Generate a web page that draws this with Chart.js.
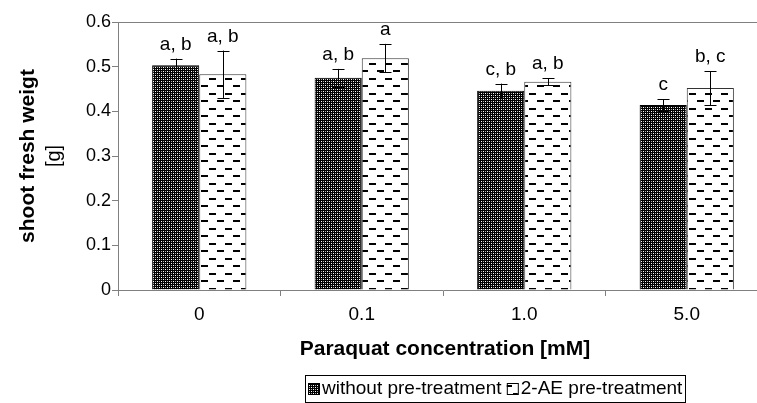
<!DOCTYPE html>
<html>
<head>
<meta charset="utf-8">
<script src="https://cdn.jsdelivr.net/npm/chart.js@4.4.1/dist/chart.umd.min.js"></script>
<style>
  html, body { margin: 0; padding: 0; background: #fff; overflow: hidden; }
  #wrap { width: 772px; height: 403px; }
</style>
</head>
<body>
<div id="wrap"><canvas id="myChart"></canvas></div>
<script>
var categories = ['0', '0.1', '1.0', '5.0'];
var withoutMeans = [0.503, 0.475, 0.446, 0.414];
var withoutErr = [0.015, 0.020, 0.016, 0.013];
var aeMeans = [0.483, 0.519, 0.466, 0.452];
var aeErr = [0.053, 0.032, 0.008, 0.038];
var withoutLetters = ['a, b', 'a, b', 'c, b', 'c'];
var aeLetters = ['a, b', 'a', 'a, b', 'b, c'];
var seriesNames = ['without pre-treatment', '2-AE pre-treatment'];

var FONT = 'Arial, "Liberation Sans", sans-serif';

// dark checkered fill
function checkPattern() {
  var c = document.createElement('canvas');
  c.width = 4; c.height = 4;
  var g = c.getContext('2d');
  g.fillStyle = '#000';
  g.fillRect(0, 0, 4, 4);
  g.fillStyle = '#fff';
  g.fillRect(1, 1, 1, 1);
  g.fillRect(3, 3, 1, 1);
  g.fillStyle = '#aaa';
  g.fillRect(3, 1, 1, 1);
  g.fillRect(1, 3, 1, 1);
  return g.createPattern(c, 'repeat');
}

// white with short dashes
function dashPattern() {
  var c = document.createElement('canvas');
  c.width = 16; c.height = 15;
  var g = c.getContext('2d');
  g.fillStyle = '#fff';
  g.fillRect(0, 0, 16, 15);
  g.fillStyle = '#000';
  g.fillRect(1, 3, 7, 2);
  g.fillRect(9, 10, 7, 2);
  return g.createPattern(c, 'repeat');
}

var fills = [checkPattern(), dashPattern()];
var errs = [withoutErr, aeErr];
var letters = [withoutLetters, aeLetters];

var extras = {
  id: 'extras',
  afterDatasetsDraw: function(chart) {
    var ctx = chart.ctx;
    var y = chart.scales.y;
    var area = chart.chartArea;
    ctx.save();
    // top frame line
    ctx.strokeStyle = '#808080';
    ctx.lineWidth = 1;
    ctx.beginPath();
    ctx.moveTo(area.left, area.top + 0.5);
    ctx.lineTo(area.right, area.top + 0.5);
    ctx.stroke();

    chart.data.datasets.forEach(function(ds, di) {
      var meta = chart.getDatasetMeta(di);
      meta.data.forEach(function(bar, i) {
        var v = ds.data[i];
        var e = errs[di][i];
        var x = Math.round(bar.x) + 0.5;
        var yt = y.getPixelForValue(v + e);
        var yb = y.getPixelForValue(v - e);
        ctx.strokeStyle = '#000';
        ctx.lineWidth = 1;
        ctx.beginPath();
        ctx.moveTo(x, yt); ctx.lineTo(x, yb);
        ctx.moveTo(x - 6, Math.round(yt) + 0.5); ctx.lineTo(x + 6, Math.round(yt) + 0.5);
        ctx.moveTo(x - 6, Math.round(yb) + 0.5); ctx.lineTo(x + 6, Math.round(yb) + 0.5);
        ctx.stroke();
        ctx.fillStyle = '#000';
        ctx.font = '19px ' + FONT;
        ctx.textAlign = 'center';
        ctx.textBaseline = 'alphabetic';
        ctx.fillText(letters[di][i], bar.x, yt - 9);
      });
    });

    // y title
    ctx.fillStyle = '#000';
    ctx.textAlign = 'center';
    ctx.textBaseline = 'middle';
    ctx.translate(28, (area.top + area.bottom) / 2);
    ctx.rotate(-Math.PI / 2);
    ctx.font = 'bold 21px ' + FONT;
    ctx.fillText('shoot fresh weigt', 0, 0);
    ctx.font = '20px ' + FONT;
    ctx.fillText('[g]', 0, 26);
    ctx.setTransform(1, 0, 0, 1, 0, 0);

    // x title
    ctx.font = 'bold 21px ' + FONT;
    ctx.fillText('Paraquat concentration [mM]', 445, 349);

    // legend
    ctx.strokeStyle = '#000';
    ctx.strokeRect(305.5, 375.5, 380, 27);
    ctx.font = '19px ' + FONT;
    ctx.textAlign = 'left';
    var lx = 308;
    seriesNames.forEach(function(name, di) {
      ctx.fillStyle = fills[di];
      ctx.fillRect(lx, 383, 11, 11);
      ctx.strokeStyle = '#000';
      ctx.strokeRect(lx + 0.5, 383.5, 11, 11);
      ctx.fillStyle = '#000';
      ctx.fillText(name, lx + 14, 389);
      lx += 14 + ctx.measureText(name + ' ').width;
    });
    ctx.restore();
  }
};

var context = document.getElementById('myChart').getContext('2d');
var myChart = new Chart(context, {
  type: 'bar',
  data: {
    labels: categories,
    datasets: [{
      label: seriesNames[0],
      data: withoutMeans,
      backgroundColor: fills[0],
      borderColor: '#000',
      borderWidth: 1
    }, {
      label: seriesNames[1],
      data: aeMeans,
      backgroundColor: fills[1],
      borderColor: '#333',
      borderWidth: 1
    }]
  },
  options: {
    responsive: true,
    maintainAspectRatio: false,
    animation: false,
    layout: { padding: { top: 22, right: 4, left: 0, bottom: 0 } },
    plugins: { legend: { display: false }, tooltip: { enabled: false } },
    datasets: { bar: { categoryPercentage: 0.58, barPercentage: 1 } },
    scales: {
      x: {
        offset: true,
        grid: { offset: true, drawOnChartArea: false, color: '#808080', tickLength: 6 },
        border: { color: '#808080', width: 1 },
        ticks: { color: '#000', font: { family: FONT, size: 19 }, padding: 7 },
        afterFit: function(s) { s.height = 113; }
      },
      y: {
        min: 0,
        max: 0.6,
        grid: { drawOnChartArea: false, color: '#808080', tickLength: 6 },
        border: { color: '#808080', width: 1 },
        ticks: { stepSize: 0.1, color: '#000', font: { family: FONT, size: 18 }, padding: 1 },
        afterFit: function(s) { s.width = 118; }
      }
    }
  },
  plugins: [extras]
});
</script>
</body>
</html>
